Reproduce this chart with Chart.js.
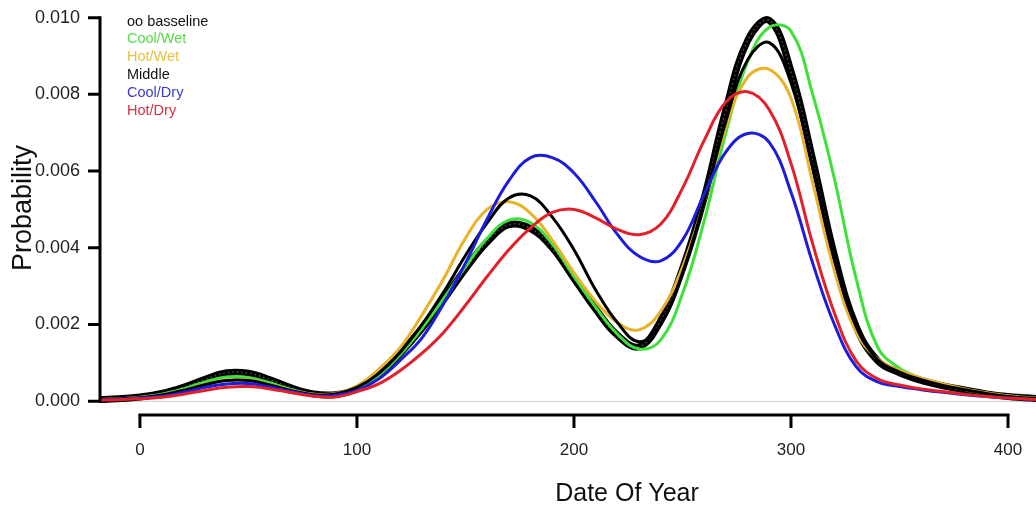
<!DOCTYPE html>
<html>
<head>
<meta charset="utf-8">
<script src="https://cdn.jsdelivr.net/npm/chart.js@4.4.1/dist/chart.umd.min.js"></script>
<style>
  html, body { margin: 0; padding: 0; background: #fff; overflow: hidden; }
  #wrap { width: 1036px; height: 506px; position: relative; }
  #chart { display: block; }
</style>
</head>
<body>
<div id="wrap"><canvas id="chart"></canvas></div>
<script>
// day of year, every 10 days
const days = [-20, -10, 0, 10, 20, 30, 40, 50, 60, 70, 80, 90,
  100, 110, 120, 130, 140, 150, 160, 170, 180, 190,
  200, 210, 220, 230, 240, 250, 260, 270, 280, 290,
  300, 310, 320, 330, 340, 350, 360, 370, 380, 390,
  400, 410, 420];

const baseline = [0.00004, 0.00006, 0.00011, 0.00020, 0.00036, 0.00057, 0.00074, 0.00073, 0.00056, 0.00034, 0.00019, 0.00017,
  0.00032, 0.00068, 0.00125, 0.00190, 0.00265, 0.00345, 0.00415, 0.00460, 0.00450, 0.00400,
  0.00320, 0.00240, 0.00172, 0.00142, 0.00210, 0.00345, 0.00530, 0.00760, 0.00940, 0.00993,
  0.00860, 0.00630, 0.00380, 0.00195, 0.00105, 0.00074, 0.00054, 0.00040, 0.00029, 0.00019,
  0.00012, 0.00008, 0.00006];

const coolWet = [0.00004, 0.00006, 0.00010, 0.00018, 0.00032, 0.00050, 0.00063, 0.00062, 0.00048, 0.00030, 0.00018, 0.00017,
  0.00032, 0.00067, 0.00122, 0.00190, 0.00268, 0.00350, 0.00425, 0.00472, 0.00465, 0.00410,
  0.00325, 0.00245, 0.00175, 0.00136, 0.00160, 0.00280, 0.00470, 0.00700, 0.00885, 0.00975,
  0.00965, 0.00800, 0.00580, 0.00320, 0.00140, 0.00086, 0.00060, 0.00043, 0.00030, 0.00020,
  0.00012, 0.00008, 0.00006];

const hotWet = [0.00004, 0.00006, 0.00009, 0.00016, 0.00028, 0.00044, 0.00055, 0.00055, 0.00043, 0.00028, 0.00018, 0.00020,
  0.00040, 0.00083, 0.00140, 0.00225, 0.00320, 0.00425, 0.00500, 0.00520, 0.00490, 0.00420,
  0.00335, 0.00260, 0.00205, 0.00186, 0.00235, 0.00350, 0.00520, 0.00715, 0.00845, 0.00865,
  0.00790, 0.00570, 0.00340, 0.00180, 0.00110, 0.00080, 0.00060, 0.00045, 0.00032, 0.00022,
  0.00014, 0.00009, 0.00006];

const middle = [0.00004, 0.00006, 0.00009, 0.00016, 0.00028, 0.00043, 0.00054, 0.00054, 0.00042, 0.00027, 0.00017, 0.00019,
  0.00036, 0.00072, 0.00128, 0.00200, 0.00285, 0.00380, 0.00465, 0.00530, 0.00535, 0.00480,
  0.00395, 0.00290, 0.00205, 0.00155, 0.00200, 0.00335, 0.00520, 0.00730, 0.00890, 0.00935,
  0.00830, 0.00610, 0.00370, 0.00195, 0.00108, 0.00076, 0.00056, 0.00041, 0.00030, 0.00020,
  0.00012, 0.00008, 0.00006];

const coolDry = [0.00003, 0.00005, 0.00008, 0.00013, 0.00023, 0.00036, 0.00045, 0.00046, 0.00037, 0.00025, 0.00015, 0.00015,
  0.00028, 0.00058, 0.00107, 0.00165, 0.00255, 0.00360, 0.00475, 0.00575, 0.00635, 0.00635,
  0.00595, 0.00520, 0.00435, 0.00378, 0.00366, 0.00420, 0.00540, 0.00650, 0.00698, 0.00675,
  0.00545, 0.00360, 0.00200, 0.00090, 0.00050, 0.00038, 0.00030, 0.00023, 0.00017, 0.00012,
  0.00008, 0.00005, 0.00004];

const hotDry = [0.00003, 0.00004, 0.00006, 0.00010, 0.00018, 0.00028, 0.00036, 0.00038, 0.00032, 0.00022, 0.00013, 0.00011,
  0.00025, 0.00045, 0.00080, 0.00125, 0.00180, 0.00250, 0.00325, 0.00395, 0.00452, 0.00492,
  0.00500, 0.00478, 0.00448, 0.00434, 0.00462, 0.00555, 0.00680, 0.00780, 0.00807, 0.00760,
  0.00620, 0.00410, 0.00230, 0.00105, 0.00058, 0.00042, 0.00032, 0.00025, 0.00018, 0.00012,
  0.00008, 0.00005, 0.00004];

const xTicks = [0, 100, 200, 300, 400];
const yTicks = [0, 0.002, 0.004, 0.006, 0.008, 0.010];

const seriesNames = ['oo basseline', 'Cool/Wet', 'Hot/Wet', 'Middle', 'Cool/Dry', 'Hot/Dry'];
const seriesColors = ['#000000', '#3ee03a', '#e9b228', '#000000', '#1c1cdc', '#e2202a'];
const legendColors = ['#111111', '#55dd44', '#e8c040', '#111111', '#3a3ad0', '#d83040'];

const FONT = '"Liberation Sans", Arial, Helvetica, sans-serif';

function pts(vals) {
  return days.map((d, i) => ({ x: d, y: vals[i] }));
}

function mkSet(idx, vals, width, order) {
  return {
    label: seriesNames[idx],
    data: pts(vals),
    borderColor: seriesColors[idx],
    borderWidth: width,
    pointRadius: 0,
    fill: false,
    tension: 0.4,
    order: order
  };
}

// R-style axes, zero line, legend text and axis titles
const rStyle = {
  id: 'rStyle',
  beforeDatasetsDraw(chart) {
    const { ctx, chartArea, scales: { y } } = chart;
    const y0 = Math.round(y.getPixelForValue(0)) + 0.5;
    ctx.save();
    ctx.strokeStyle = '#d0d0d0';
    ctx.lineWidth = 1;
    ctx.beginPath();
    ctx.moveTo(chartArea.left, y0);
    ctx.lineTo(chartArea.right, y0);
    ctx.stroke();
    ctx.restore();
  },
  afterDatasetDraw(chart, args) {
    // give the baseline band a bit of the "circles" texture
    if (args.index !== 0) return;
    const { ctx, chartArea } = chart;
    const line = args.meta.dataset;
    ctx.save();
    ctx.beginPath();
    ctx.rect(chartArea.left, chartArea.top, chartArea.right - chartArea.left, chartArea.bottom - chartArea.top);
    ctx.clip();
    ctx.beginPath();
    line.path(ctx);
    ctx.strokeStyle = 'rgba(150,150,150,0.55)';
    ctx.lineWidth = 1.4;
    ctx.setLineDash([1.5, 3]);
    ctx.stroke();
    ctx.restore();
  },
  afterDraw(chart) {
    const { ctx, chartArea, scales: { x, y } } = chart;
    ctx.save();
    ctx.strokeStyle = '#000';
    ctx.lineWidth = 3;
    ctx.lineCap = 'square';

    // y axis
    const ax = chartArea.left;
    ctx.beginPath();
    ctx.moveTo(ax, y.getPixelForValue(yTicks[0]));
    ctx.lineTo(ax, y.getPixelForValue(yTicks[yTicks.length - 1]));
    ctx.stroke();
    ctx.lineCap = 'butt';
    ctx.beginPath();
    yTicks.forEach(v => {
      const py = y.getPixelForValue(v);
      ctx.moveTo(ax - 12, py);
      ctx.lineTo(ax, py);
    });
    ctx.stroke();

    // x axis (offset below the plot)
    const ay = chartArea.bottom + 10;
    ctx.lineCap = 'square';
    ctx.beginPath();
    ctx.moveTo(x.getPixelForValue(xTicks[0]), ay);
    ctx.lineTo(x.getPixelForValue(xTicks[xTicks.length - 1]), ay);
    ctx.stroke();
    ctx.lineCap = 'butt';
    ctx.beginPath();
    xTicks.forEach(v => {
      const px = x.getPixelForValue(v);
      ctx.moveTo(px, ay);
      ctx.lineTo(px, ay + 13);
    });
    ctx.stroke();

    // legend (coloured text only)
    ctx.font = '14.5px ' + FONT;
    ctx.textAlign = 'left';
    ctx.textBaseline = 'middle';
    seriesNames.forEach((name, i) => {
      ctx.fillStyle = legendColors[i];
      ctx.fillText(name, 127, 21.5 + i * 17.9);
    });

    // axis titles
    ctx.fillStyle = '#111';
    ctx.font = '25px ' + FONT;
    ctx.textAlign = 'center';
    ctx.textBaseline = 'alphabetic';
    ctx.fillText('Date Of Year', 627, 501);

    ctx.translate(31, 208);
    ctx.rotate(-Math.PI / 2);
    ctx.font = '27px ' + FONT;
    ctx.fillText('Probability', 0, 0);
    ctx.restore();
  }
};

const ctx = document.getElementById('chart').getContext('2d');
new Chart(ctx, {
  type: 'line',
  data: {
    datasets: [
      mkSet(0, baseline, 7, 6),
      mkSet(1, coolWet, 3, 5),
      mkSet(2, hotWet, 3, 4),
      mkSet(3, middle, 3, 3),
      mkSet(4, coolDry, 3, 2),
      mkSet(5, hotDry, 3, 1)
    ]
  },
  options: {
    responsive: true,
    maintainAspectRatio: false,
    animation: false,
    layout: { padding: { top: 10, right: 0, bottom: 0, left: 0 } },
    plugins: {
      legend: { display: false },
      tooltip: { enabled: false }
    },
    scales: {
      x: {
        type: 'linear',
        min: -18.4,
        max: 412.9,
        grid: { display: false, drawTicks: false },
        border: { display: false },
        afterFit: s => { s.height = 101; s.paddingLeft = 0; s.paddingRight = 0; },
        afterBuildTicks: s => { s.ticks = xTicks.map(v => ({ value: v })); },
        ticks: {
          padding: 35,
          maxRotation: 0,
          color: '#222',
          font: { family: FONT, size: 17 },
          callback: v => String(v)
        }
      },
      y: {
        type: 'linear',
        min: -0.0001,
        max: 0.0102,
        grid: { display: false, drawTicks: false },
        border: { display: false },
        afterFit: s => { s.width = 100; s.paddingTop = 0; s.paddingBottom = 0; },
        afterBuildTicks: s => { s.ticks = yTicks.map(v => ({ value: v })); },
        ticks: {
          padding: 20,
          color: '#222',
          font: { family: FONT, size: 18 },
          callback: v => v.toFixed(3)
        }
      }
    }
  },
  plugins: [rStyle]
});
</script>
</body>
</html>
